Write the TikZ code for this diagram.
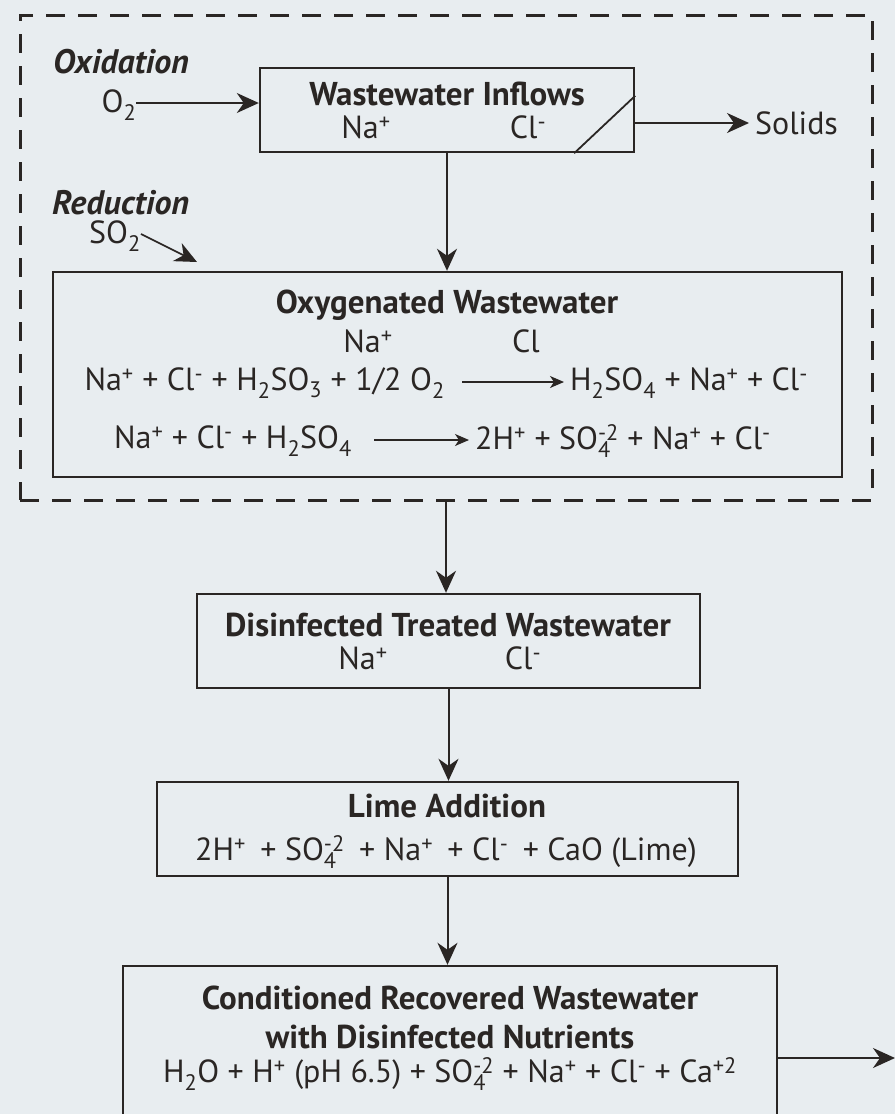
\documentclass[tikz,border=0pt]{standalone}
\usepackage{fontspec}
\setmainfont{PT Sans}
\usetikzlibrary{arrows.meta}
\definecolor{paper}{HTML}{E8EDF0}
\definecolor{ink}{HTML}{2A2624}
\newlength{\chwid}
\newcommand{\chsup}[1]{\textsuperscript{#1}}
\newcommand{\chsub}[1]{\textsubscript{#1}}
\newcommand{\chboth}[2]{\settowidth{\chwid}{\textsuperscript{#2}}\rlap{\textsuperscript{#2}}\makebox[\chwid][l]{\textsubscript{#1}}}
\tikzset{
  procbox/.style={draw=ink,line width=2.4pt,inner sep=0pt},
  stagebox/.style={draw=ink,line width=3pt,dash pattern=on 19pt off 13pt,inner sep=0pt},
  flow/.style={draw=ink,line width=2pt,-{Stealth[length=22pt,width=20pt,inset=7pt]}},
  eqflow/.style={draw=ink,line width=1.3pt,-{Stealth[length=14pt,width=12pt,inset=4pt]}},
  title/.style={text=ink,inner sep=0pt,font=\fontsize{33}{38}\selectfont\bfseries},
  chem/.style={text=ink,inner sep=0pt,font=\fontsize{32}{38}\selectfont},
  step label/.style={text=ink,inner sep=0pt,font=\fontsize{34}{40}\selectfont\bfseries\itshape}
}
\begin{document}
\begin{tikzpicture}[x=1pt,y=-1pt]
\fill[paper] (0,0) rectangle (895,1114);
\useasboundingbox (0,0) rectangle (895,1114);
\node[stagebox,minimum width=852pt,minimum height=485pt] (stage) at (446,257.5) {};
\node[procbox,minimum width=374pt,minimum height=84pt] (inflow) at (447,110) {};
\node[procbox,minimum width=789pt,minimum height=205pt] (oxy) at (447.5,374.5) {};
\node[procbox,minimum width=503pt,minimum height=94pt] (disinf) at (448.5,641) {};
\node[procbox,minimum width=581pt,minimum height=94pt] (lime) at (447.5,829) {};
\node[procbox,minimum width=654pt,minimum height=234pt] (recov) at (450,1083) {};
% inflow box
\node[title] (inflowtitle) at (447,94) {Wastewater Inflows};
\node[chem] (inflowna) at (366,127) {Na\chsup{+}};
\node[chem] (inflowcl) at (528,127) {Cl\chsup{-}};
\draw[ink,line width=1.8pt] ([xshift=-61pt]inflow.south east) -- ([yshift=-29pt]inflow.north east);
% oxidation and reduction inputs
\node[step label,anchor=west] (oxlabel) at (53,62) {Oxidation};
\node[chem] (oxtwo) at (119,105) {O\chsub{2}};
\draw[flow,line width=1.6pt] (oxtwo.east |- 0,103) -- (inflow.west |- 0,103);
\node[step label,anchor=west] (redlabel) at (52,203) {Reduction};
\node[chem] (sotwo) at (115,236) {SO\chsub{2}};
\coordinate (sotip) at (197,262);
\draw[flow,line width=1.6pt] ([yshift=2pt]sotwo.east) -- (sotip);
% solids
\node[chem,anchor=west] (solids) at (755,123) {Solids};
\draw[flow] (inflow.east |- solids.west) -- ([xshift=-6pt]solids.west);
% oxygenated wastewater
\node[title] (oxytitle) at (447,305) {Oxygenated Wastewater};
\node[chem] (oxyna) at (368,341) {Na\chsup{+}};
\node[chem] (oxycl) at (526,341) {Cl};
\node[chem,anchor=east] (eqonel) at (445,383) {Na\chsup{+} + Cl\chsup{-} + H\chsub{2}SO\chsub{3} + 1/2 O\chsub{2}};
\node[chem,anchor=west] (eqoner) at (570,383) {H\chsub{2}SO\chsub{4} + Na\chsup{+} + Cl\chsup{-}};
\draw[eqflow] ([xshift=17pt]eqonel.east |- 0,382) -- ([xshift=-6pt]eqoner.west |- 0,382);
\node[chem,anchor=east] (eqtwol) at (352,441) {Na\chsup{+} + Cl\chsup{-} + H\chsub{2}SO\chsub{4}};
\node[chem,anchor=west] (eqtwor) at (475,441) {2H\chsup{+} + SO\chboth{4}{-2} + Na\chsup{+} + Cl\chsup{-}};
\draw[eqflow] ([xshift=22pt]eqtwol.east |- 0,440) -- ([xshift=-6pt]eqtwor.west |- 0,440);
% disinfected wastewater
\node[title] (disinftitle) at (448,625) {Disinfected Treated Wastewater};
\node[chem] (disinfna) at (363,658) {Na\chsup{+}};
\node[chem] (disinfcl) at (523,658) {Cl\chsup{-}};
% lime addition
\node[title] (limetitle) at (447,806) {Lime Addition};
\node[chem] (limeeq) at (446,852) {2H\chsup{+}\hspace{0.45em}+ SO\chboth{4}{-2}\hspace{0.45em}+ Na\chsup{+}\hspace{0.45em}+ Cl\chsup{-}\hspace{0.45em}+ CaO (Lime)};
% recovered wastewater
\node[title] (recovtitle) at (450,998) {Conditioned Recovered Wastewater};
\node[title] (recovsub) at (450,1037) {with Disinfected Nutrients};
\node[chem] (recoveq) at (450,1074) {H\chsub{2}O + H\chsup{+} (pH 6.5) + SO\chboth{4}{-2} + Na\chsup{+} + Cl\chsup{-} + Ca\chsup{+2}};
\coordinate (outlet) at (895,1058);
% main flow
\draw[flow] (inflow.south) -- (inflow.south |- oxy.north);
\draw[flow] (stage.south) -- (stage.south |- disinf.north);
\draw[flow] (disinf.south) -- (disinf.south |- lime.north);
\draw[flow] (lime.south) -- (lime.south |- recov.north);
\draw[flow] (recov.east |- outlet) -- (outlet);
\end{tikzpicture}
\end{document}
